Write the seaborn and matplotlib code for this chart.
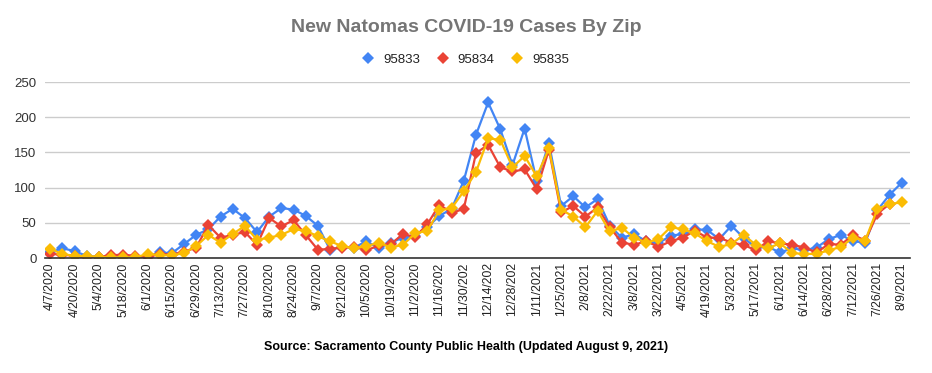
import matplotlib
matplotlib.use("Agg")
import matplotlib.pyplot as plt
import numpy as np
import pandas as pd
import seaborn as sns

# Tick labels (every other weekly point), as shown on the chart
tick_labels = [
    "4/7/2020", "4/20/2020", "5/4/2020", "5/18/2020", "6/1/2020", "6/15/2020",
    "6/29/2020", "7/13/2020", "7/27/2020", "8/10/2020", "8/24/2020", "9/7/2020",
    "9/21/2020", "10/5/2020", "10/19/202", "11/2/2020", "11/16/202", "11/30/202",
    "12/14/202", "12/28/202", "1/11/2021", "1/25/2021", "2/8/2021", "2/22/2021",
    "3/8/2021", "3/22/2021", "4/5/2021", "4/19/2021", "5/3/2021", "5/17/2021",
    "6/1/2021", "6/14/2021", "6/28/2021", "7/12/2021", "7/26/2021", "8/9/2021",
]

zips = ["95833", "95834", "95835"]

cases_95833 = [
    8, 14, 10, 3, 2, 2, 2, 2, 2, 8, 7, 20, 33, 41, 59, 70, 57, 37, 59, 71,
    69, 60, 46, 12, 16, 15, 24, 14, 22, 29, 32, 44, 60, 70, 110, 175, 221, 183, 132, 184,
    109, 163, 74, 88, 72, 84, 46, 29, 34, 24, 21, 32, 34, 41, 40, 27, 46, 29, 15, 16,
    8, 14, 11, 15, 27, 33, 24, 22, 68, 90, 107,
]
cases_95834 = [
    6, 5, 3, 1, 2, 4, 5, 3, 1, 6, 5, 9, 15, 47, 29, 33, 37, 19, 57, 45,
    54, 33, 12, 13, 15, 16, 11, 18, 20, 34, 30, 48, 76, 64, 70, 149, 161, 129, 123, 126,
    98, 154, 65, 74, 59, 72, 44, 22, 19, 24, 16, 24, 29, 39, 29, 29, 22, 19, 11, 24,
    21, 19, 15, 8, 20, 19, 33, 25, 63, 77, np.nan,
]
cases_95835 = [
    13, 6, 3, 3, 2, 1, 1, 1, 6, 4, 4, 7, 17, 33, 22, 34, 46, 26, 29, 33,
    41, 39, 31, 24, 17, 14, 17, 22, 15, 19, 35, 39, 68, 71, 95, 122, 170, 168, 129, 145,
    116, 156, 69, 59, 44, 67, 38, 43, 29, 22, 27, 44, 41, 35, 24, 16, 20, 33, 19, 14,
    21, 7, 6, 6, 11, 16, 29, 25, 70, 77, 79,
]

colors = ["#4285F4", "#EA4335", "#FBBC04"]

df = pd.DataFrame({
    "week": np.tile(np.arange(len(cases_95833)), 3),
    "cases": cases_95833 + cases_95834 + cases_95835,
    "zip": np.repeat(zips, len(cases_95833)),
})

sns.set_theme(style="white")
plt.rcParams["font.family"] = ["Liberation Sans", "DejaVu Sans"]

fig = plt.figure(figsize=(9.32, 3.73), dpi=100)
ax = fig.add_axes([0.048, 0.308, 0.928, 0.472])

sns.lineplot(
    data=df, x="week", y="cases", hue="zip", hue_order=zips,
    palette=colors, marker="D", markersize=6, markeredgewidth=0,
    linewidth=1.6, ax=ax, legend=False,
)

ax.set_xlim(-0.45, 70.65)
ax.set_ylim(0, 250)
ax.set_yticks([0, 50, 100, 150, 200, 250])
ax.set_xticks(np.arange(0, 71, 2))
ax.set_xticklabels(tick_labels, rotation=90, fontsize=8.8, color="#222222")
ax.tick_params(axis="y", labelsize=9.5, colors="#333333", length=0, pad=6)
ax.tick_params(axis="x", length=0, pad=3)
ax.set_xlabel("")
ax.set_ylabel("")
ax.grid(axis="y", color="#cccccc", linewidth=1)
ax.grid(axis="x", visible=False)
for side in ["top", "right", "left"]:
    ax.spines[side].set_visible(False)
ax.spines["bottom"].set_color("#333333")
ax.spines["bottom"].set_linewidth(1.2)

# legend with diamond markers
handles = [
    plt.Line2D([], [], color=c, marker="D", linestyle="none", markersize=6.5, markeredgewidth=0)
    for c in colors
]
fig.legend(
    handles, zips, loc="center", bbox_to_anchor=(0.5, 1 - 60 / 373), ncol=3,
    frameon=False, fontsize=9.5, handlelength=0.8, handletextpad=0.7, columnspacing=1.35,
    labelcolor="#222222",
)

fig.text(0.5, 1 - 28 / 373, "New Natomas COVID-19 Cases By Zip", ha="center", va="center",
         fontsize=14, fontweight="bold", color="#757575")
fig.text(0.5, 1 - 347 / 373, "Source: Sacramento County Public Health (Updated August 9, 2021)",
         ha="center", va="center", fontsize=9, fontweight="bold", color="#000000")

fig.savefig("out.png", dpi=100, facecolor="white")
